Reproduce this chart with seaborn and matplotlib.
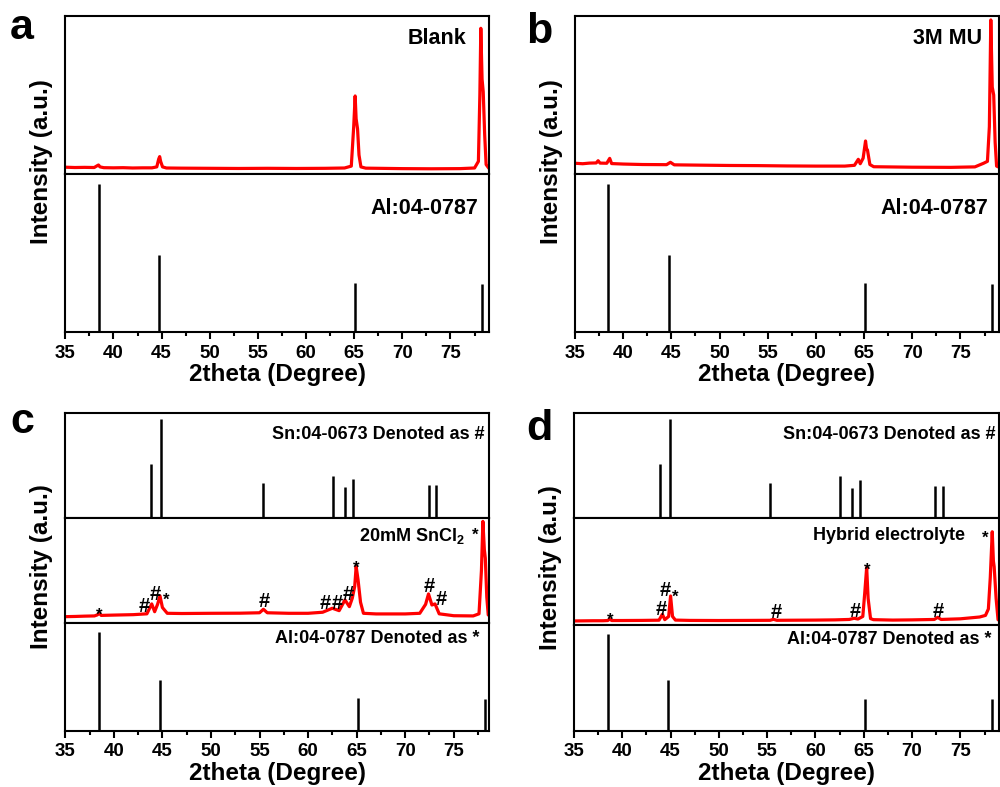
import matplotlib
matplotlib.use("Agg")
import matplotlib.pyplot as plt
from matplotlib.ticker import MultipleLocator
import pandas as pd
import seaborn as sns

# ---------------- data ----------------
# Reference cards (stick patterns)
al_pos = [38.47, 44.72, 65.10, 78.23]
al_int = [100, 52, 33, 32.5]
sn_pos = [43.87, 44.90, 55.33, 62.54, 63.78, 64.58, 72.42, 73.19]
sn_int = [54.5, 100, 35.7, 42.4, 31, 39, 33, 33]

blank_x = [35.0, 36.0, 37.0, 38.0, 38.3, 38.45, 38.6, 39.0, 40, 41, 42, 43, 44, 44.5, 44.7, 44.8,
           44.9, 45.1, 45.5, 47, 50, 53, 56, 59, 62, 64, 64.7, 64.95, 65.1, 65.2, 65.35, 65.5,
           65.7, 66.2, 70, 73, 76, 77.5, 77.9, 78.05, 78.15, 78.28, 78.4, 78.55, 78.7, 79.0]
blank_y = [4.3, 4.1, 4.2, 4.1, 5.2, 5.7, 4.5, 4.0, 3.9, 4.0, 3.8, 3.9, 3.9, 4.5, 9.5, 11,
           8, 4.5, 3.8, 3.7, 3.6, 3.5, 3.6, 3.5, 3.6, 3.8, 5, 30, 49.4, 35, 28.5, 12,
           4.5, 3.7, 3.4, 3.3, 3.4, 3.8, 8, 50, 92.2, 60, 52, 25, 6, 3.5]

mu_x = [35.0, 35.8, 36.5, 37.2, 37.4, 37.6, 38.3, 38.6, 38.8, 40, 42, 44.5, 44.9, 45.3, 48, 51,
        54, 57, 60, 63, 64.0, 64.4, 64.6, 64.9, 65.15, 65.25, 65.35, 65.6, 66, 70, 74, 76.5,
        77.4, 77.8, 78.0, 78.15, 78.3, 78.45, 78.6, 78.75, 79.0]
mu_y = [6.8, 6.5, 6.9, 7.0, 8.4, 6.9, 6.8, 9.9, 6.6, 6.3, 6.0, 5.9, 7.4, 5.8, 5.6, 5.4,
        5.3, 5.1, 5.0, 5.0, 5.5, 9.3, 6.5, 10, 20.9, 16, 15.2, 6, 4.6, 4.3, 4.2, 4.5,
        6.8, 8, 30, 97.5, 55, 50, 20, 5, 4.3]

sncl2_x = [35.0, 36, 37, 38, 38.3, 38.5, 38.7, 40, 42, 43.4, 43.9, 44.2, 44.5, 44.75, 45.0, 45.5,
           47, 50, 53, 55.0, 55.4, 55.8, 58, 60, 61.5, 62.5, 63.2, 63.8, 64.25, 64.55, 64.8,
           64.95, 65.15, 65.4, 65.7, 67, 70, 71.5, 72.1, 72.4, 72.75, 73.07, 73.5, 75, 77,
           77.6, 77.85, 78.0, 78.15, 78.25, 78.4, 78.55, 78.7]
sncl2_y = [6.3, 6.5, 6.8, 7.0, 8, 9.5, 7.5, 7.8, 8.2, 9, 18.4, 11, 18, 26, 15, 9.5,
           9.3, 9.5, 9.6, 10, 13.3, 10, 9.5, 9.5, 10.5, 14.3, 12, 22.2, 15.8, 23.8, 35,
           53.9, 41, 20, 9.5, 8.9, 8.9, 9.5, 18, 27.9, 17.4, 18.4, 9, 7.2, 7.0,
           9, 50, 96.8, 70, 61.9, 25, 8, 7]

hyb_x = [35.0, 36, 37, 38, 38.5, 38.7, 38.9, 40, 42, 43.8, 44.15, 44.4, 44.8, 45.0, 45.2, 45.5,
         47, 50, 53, 55.3, 55.65, 56, 58, 60, 62, 63.5, 64.0, 64.4, 64.9, 65.1, 65.3, 65.45,
         65.7, 66, 68, 70, 72.3, 72.65, 73, 75, 77, 77.6, 77.9, 78.1, 78.3, 78.42, 78.5,
         78.7, 78.9, 79.0]
hyb_y = [3.8, 3.9, 4.0, 4.0, 4.2, 5.6, 4.2, 4.2, 4.3, 4.5, 10, 5, 8, 27.2, 8, 4.6,
         4.3, 4.2, 4.3, 4.4, 5.3, 4.4, 4.5, 4.6, 4.8, 5.2, 6.3, 5.6, 8, 30, 54, 25,
         6, 5, 4.6, 4.8, 5.2, 7.2, 5.2, 5.8, 7.5, 9, 15, 45, 87.4, 60, 54.6,
         25, 5, 4.5]

# Peak markers
c_mark_txt = ['*', '#', '#', '*', '#', '#', '#', '#', '*', '#', '#']
c_mark_x = [38.5, 43.14, 44.27, 45.34, 55.5, 61.75, 63.05, 64.15, 64.94, 72.46, 73.7]
c_mark_y = [15.2, 18.4, 29.2, 29.2, 22.8, 20.6, 20.6, 29.2, 59.3, 36.5, 24.8]
d_mark_txt = ['*', '#', '#', '*', '#', '#', '*', '#']
d_mark_x = [38.7, 44.05, 44.4, 45.43, 55.9, 64.1, 65.33, 72.75]
d_mark_y = [11.5, 16.2, 34.4, 32.8, 13.4, 14.7, 58.4, 15]

xticks = [35, 40, 45, 50, 55, 60, 65, 70, 75]

# ---------------- style ----------------
sns.set_style("ticks")
plt.rcParams['font.family'] = ['Liberation Sans', 'DejaVu Sans']
plt.rcParams['font.weight'] = 'bold'
plt.rcParams['axes.labelweight'] = 'bold'
plt.rcParams['text.color'] = 'black'
plt.rcParams['axes.labelcolor'] = 'black'
plt.rcParams['xtick.color'] = 'black'
plt.rcParams['ytick.color'] = 'black'
plt.rcParams['axes.edgecolor'] = 'black'
plt.rcParams['mathtext.fontset'] = 'custom'
plt.rcParams['mathtext.rm'] = 'Liberation Sans:bold'
plt.rcParams['mathtext.bf'] = 'Liberation Sans:bold'
plt.rcParams['axes.linewidth'] = 1.5

RED = '#ff0000'
fig = plt.figure(figsize=(10, 7.87), dpi=100)


def px(x, y):
    return x / 1000.0, 1 - y / 787.0


def make_axes(left, right, ys):
    axes = []
    for top, bot in zip(ys[:-1], ys[1:]):
        l, b = px(left, bot)
        _, t = px(left, top)
        ax = fig.add_axes([l, b, (right - left) / 1000.0, t - b])
        axes.append(ax)
    return axes


def style(ax, xmax, bottom):
    ax.set_xlim(35, xmax)
    ax.set_yticks([])
    for s in ax.spines.values():
        s.set_linewidth(1.5)
        s.set_color('black')
    ax.xaxis.set_major_locator(MultipleLocator(5))
    ax.xaxis.set_minor_locator(MultipleLocator(2.5))
    ax.tick_params(axis='x', which='major', direction='out', length=5, width=1.5,
                   labelsize=13.5, pad=4, bottom=bottom, labelbottom=bottom, colors='black')
    ax.tick_params(axis='x', which='minor', direction='out', length=3, width=1.5,
                   bottom=bottom, colors='black')
    ax.set_ylabel('')
    if bottom:
        ax.set_xlabel('2theta (Degree)', fontsize=17.5, fontweight='bold', labelpad=1,
                      color='black')
    else:
        ax.set_xlabel('')


def curve(ax, xs, ys):
    df = pd.DataFrame({'x': xs, 'y': ys})
    sns.lineplot(data=df, x='x', y='y', ax=ax, color=RED, linewidth=2.3, estimator=None)


def sticks(ax, pos, ints):
    ax.vlines(pos, 0, ints, colors='black', linewidth=1.8)


def marks(ax, txts, xs, ys):
    for t, x, y in zip(txts, xs, ys):
        if t == '*':
            ax.annotate(t, (x, y), xytext=(0, -5.5), textcoords='offset points',
                        ha='center', va='center', fontsize=12, fontweight='bold')
        else:
            ax.annotate(t, (x, y), xytext=(0, -1.5), textcoords='offset points',
                        ha='center', va='center', fontsize=14.5, fontweight='bold')


# ---------- panel a ----------
a_top, a_bot = make_axes(65.3, 489, [16, 174, 332.3])
curve(a_top, blank_x, blank_y)
a_top.set_ylim(0, 100)
a_top.text(76.7, 86, 'Blank', ha='right', va='center', fontsize=15.5, fontweight='bold')
sticks(a_bot, al_pos, al_int)
a_bot.set_ylim(0, 107)
a_bot.text(77.9, 84, 'Al:04-0787', ha='right', va='center', fontsize=15.5, fontweight='bold')
style(a_top, 79, False)
style(a_bot, 79, True)

# ---------- panel b ----------
b_top, b_bot = make_axes(575, 999, [16, 174, 332.3])
curve(b_top, mu_x, mu_y)
b_top.set_ylim(0, 100)
b_top.text(77.2, 86, '3M MU', ha='right', va='center', fontsize=15.5, fontweight='bold')
sticks(b_bot, al_pos, al_int)
b_bot.set_ylim(0, 107)
b_bot.text(77.9, 84, 'Al:04-0787', ha='right', va='center', fontsize=15.5, fontweight='bold')
style(b_top, 79, False)
style(b_bot, 79, True)

# ---------- panel c ----------
c1, c2, c3 = make_axes(65.3, 489.3, [412.7, 518, 623.3, 731])
sticks(c1, sn_pos, sn_int)
c1.set_ylim(0, 106)
c1.text(78.15, 84.5, 'Sn:04-0673 Denoted as #', ha='right', va='center', fontsize=13,
        fontweight='bold')
curve(c2, sncl2_x, sncl2_y)
c2.set_ylim(0, 100)
c2.text(76.16, 82.5, r'20mM SnCl$_\mathbf{2}$', ha='right', va='center', fontsize=13,
        fontweight='bold')
c2.annotate('*', (77.2, 90.5), xytext=(0, -5.5), textcoords='offset points', ha='center',
            va='center', fontsize=12, fontweight='bold')
marks(c2, c_mark_txt, c_mark_x, c_mark_y)
sticks(c3, al_pos, al_int)
c3.set_ylim(0, 109)
c3.text(77.7, 93.8, 'Al:04-0787 Denoted as *', ha='right', va='center', fontsize=13,
        fontweight='bold')
style(c1, 78.66, False)
style(c2, 78.66, False)
style(c3, 78.66, True)

# ---------- panel d ----------
d1, d2, d3 = make_axes(574, 999, [413.3, 518.3, 625, 730.7])
sticks(d1, sn_pos, sn_int)
d1.set_ylim(0, 106)
d1.text(78.63, 84.5, 'Sn:04-0673 Denoted as #', ha='right', va='center', fontsize=13,
        fontweight='bold')
curve(d2, hyb_x, hyb_y)
d2.set_ylim(0, 100)
d2.text(75.52, 84.3, 'Hybrid electrolyte', ha='right', va='center', fontsize=13,
        fontweight='bold')
d2.annotate('*', (77.6, 88.5), xytext=(0, -5.5), textcoords='offset points', ha='center',
            va='center', fontsize=12, fontweight='bold')
marks(d2, d_mark_txt, d_mark_x, d_mark_y)
sticks(d3, al_pos, al_int)
d3.set_ylim(0, 109)
d3.text(78.18, 94.5, 'Al:04-0787 Denoted as *', ha='right', va='center', fontsize=13,
        fontweight='bold')
style(d1, 79, False)
style(d2, 79, False)
style(d3, 79, True)

# ---------- y labels & panel letters ----------
for (x, y) in [(41.7, 161.7), (551.7, 161.7), (41.7, 566.7), (550, 567.5)]:
    fx, fy = px(x, y)
    fig.text(fx, fy, 'Intensity (a.u.)', rotation=90, ha='center', va='center',
             fontsize=17.5, fontweight='bold', color='black')

for lab, x, y in [('a', 10, 39), ('b', 526, 43), ('c', 10, 433), ('d', 526, 440)]:
    fx, fy = px(x, y)
    fig.text(fx, fy, lab, ha='left', va='baseline', fontsize=31, fontweight='bold',
             color='black')

fig.savefig('out.png', dpi=100)
